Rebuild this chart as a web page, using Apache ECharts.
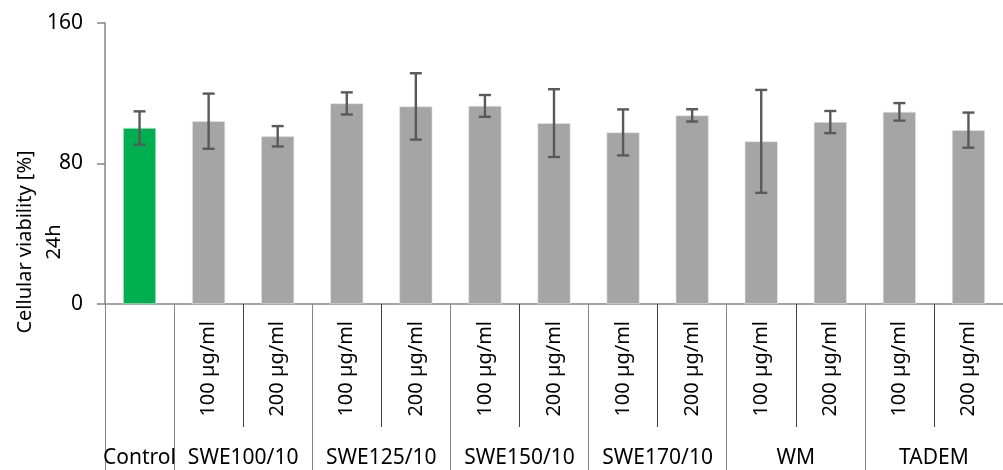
<!DOCTYPE html>
<html>
<head>
<meta charset="utf-8">
<script src="https://cdn.jsdelivr.net/npm/echarts@6/dist/echarts.min.js"></script>
<style>
html,body{margin:0;padding:0;background:#fff;}
#chart{width:1003px;height:470px;}
</style>
</head>
<body>
<div id="chart"></div>
<script>
var subLabels = ["", "100 µg/ml", "200 µg/ml", "100 µg/ml", "200 µg/ml", "100 µg/ml", "200 µg/ml", "100 µg/ml", "200 µg/ml", "100 µg/ml", "200 µg/ml", "100 µg/ml", "200 µg/ml"];
var groupLabels = ["Control", "SWE100/10", "SWE125/10", "SWE150/10", "SWE170/10", "WM", "TADEM"];
var groupBounds = [0, 1, 3, 5, 7, 9, 11, 13];
var means = [100.2, 104.1, 95.5, 114.2, 112.5, 112.8, 103.0, 97.7, 107.4, 92.6, 103.6, 109.4, 99.0];
var errs = [9.5, 15.7, 5.8, 6.3, 18.9, 6.2, 19.3, 13.1, 3.5, 29.3, 6.3, 5.0, 10.0];
var yTicks = [0, 80, 160];

var FONT = "Noto Sans";
var groupCenters = [];
for (var g = 0; g < groupLabels.length; g++) {
  groupCenters.push((groupBounds[g] + groupBounds[g + 1]) / 2);
}

var barData = means.map(function (v, i) {
  return { value: v, itemStyle: { color: i === 0 ? "#00b050" : "#a5a5a5" } };
});
var errData = means.map(function (v, i) { return [i, v - errs[i], v + errs[i]]; });

var chart = echarts.init(document.getElementById("chart"));
chart.setOption({
  backgroundColor: "#fff",
  animation: false,
  grid: { left: 105, top: 23, width: 909, height: 281, containLabel: false },
  xAxis: [
    {
      type: "category",
      data: subLabels,
      position: "bottom",
      axisLine: { show: true, lineStyle: { color: "#868686", width: 1.5 } },
      axisTick: { show: true, length: 123, lineStyle: { color: "#404040", width: 1 } },
      axisLabel: { rotate: 90, fontFamily: FONT, fontSize: 20, color: "#000", margin: 17 },
      splitLine: { show: false }
    },
    {
      type: "value",
      min: 0,
      max: 13,
      position: "bottom",
      axisLine: { show: false },
      axisTick: { show: true, length: 170, customValues: groupBounds, lineStyle: { color: "#868686", width: 1 } },
      axisLabel: {
        show: true,
        customValues: groupCenters,
        fontFamily: FONT, fontSize: 21, color: "#000", margin: 144,
        formatter: function (v) {
          var idx = groupCenters.indexOf(v);
          return idx >= 0 ? groupLabels[idx] : "";
        }
      },
      splitLine: { show: false }
    }
  ],
  yAxis: {
    type: "value",
    min: yTicks[0],
    max: yTicks[yTicks.length - 1],
    interval: yTicks[1] - yTicks[0],
    axisLine: { show: true, lineStyle: { color: "#868686", width: 1.5 } },
    axisTick: { show: true, inside: false, length: 8, lineStyle: { color: "#868686", width: 1.5 } },
    axisLabel: { fontFamily: FONT, fontSize: 21, color: "#000", margin: 22 },
    splitLine: { show: false }
  },
  graphic: [
    {
      type: "text",
      x: 40,
      y: 242,
      rotation: Math.PI / 2,
      style: {
        text: "Cellular viability [%]\n24h",
        fontFamily: FONT,
        fontSize: 20,
        lineHeight: 29,
        fill: "#000",
        align: "center",
        verticalAlign: "middle"
      }
    }
  ],
  series: [
    {
      type: "bar",
      xAxisIndex: 0,
      barWidth: 33,
      data: barData,
      itemStyle: { borderColor: "#e8e8e8", borderWidth: 0.6 }
    },
    {
      type: "custom",
      xAxisIndex: 0,
      data: errData,
      z: 10,
      renderItem: function (params, api) {
        var x = api.value(0);
        var lo = api.coord([x, api.value(1)]);
        var hi = api.coord([x, api.value(2)]);
        var cap = 6;
        var st = { stroke: "#595959", lineWidth: 2.4 };
        return {
          type: "group",
          children: [
            { type: "line", shape: { x1: lo[0], y1: lo[1], x2: hi[0], y2: hi[1] }, style: st },
            { type: "line", shape: { x1: hi[0] - cap, y1: hi[1], x2: hi[0] + cap, y2: hi[1] }, style: st },
            { type: "line", shape: { x1: lo[0] - cap, y1: lo[1], x2: lo[0] + cap, y2: lo[1] }, style: st }
          ]
        };
      }
    }
  ]
});
</script>
</body>
</html>
